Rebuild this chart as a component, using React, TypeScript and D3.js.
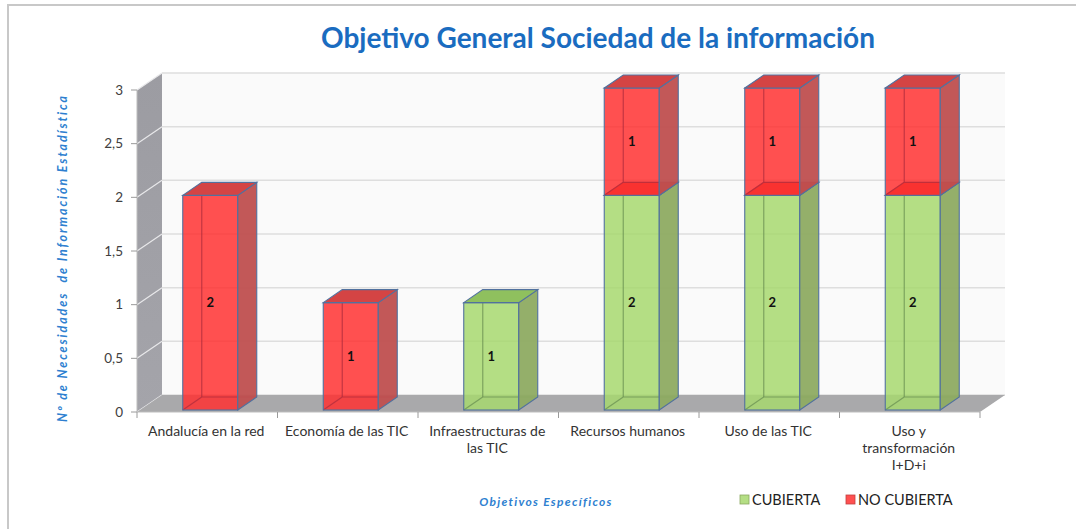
import React from "react";
import * as d3 from "d3";

const categories = [
  "Andalucía en la red",
  "Economía de las TIC",
  "Infraestructuras de las TIC",
  "Recursos humanos",
  "Uso de las TIC",
  "Uso y transformación I+D+i",
];
const categoryLines = [
  ["Andalucía en la red"],
  ["Economía de las TIC"],
  ["Infraestructuras de", "las TIC"],
  ["Recursos humanos"],
  ["Uso de las TIC"],
  ["Uso y", "transformación", "I+D+i"],
];
const cubierta = [0, 0, 1, 2, 2, 2];
const noCubierta = [2, 1, 0, 1, 1, 1];
const yTicks = [0, 0.5, 1, 1.5, 2, 2.5, 3];
const title = "Objetivo General Sociedad de la información";
const yTitle = "Nº de Necesidades  de Información Estadística";
const xTitle = "Objetivos Específicos";
const legendLabels = ["CUBIERTA", "NO CUBIERTA"];

const W = 1076;
const H = 529;
const left = 137;
const right = 980;
const bottom = 412;
const top = 90;
const DX = 25;
const DY = -17;
const BOFF = [3, -2];
const BDX = 19;
const BDY = -13;
const BW = 55;

const colors = {
  green: { front: "#a7d86e", side: "#8eab62", top: "#8fc05e", bottom: "#8fc05e", edge: "#6a9052", legend: "#b4de84" },
  red: { front: "#ff3131", side: "#bf4f4f", top: "#d44444", bottom: "#d83a2a", edge: "#b02c3c", legend: "#ff5050" },
};
const stroke = "#51719e";

const fontF = "Lato, 'Open Sans', sans-serif";

function Box({ x0, x1, yb, yt, c, fillBottom }: any) {
  const dx = BDX, dy = BDY;
  const p = (pts: number[][]) => pts.map((q) => q.join(",")).join(" ");
  return (
    <g>
      {fillBottom && (
        <polygon points={p([[x0, yb], [x1, yb], [x1 + dx, yb + dy], [x0 + dx, yb + dy]])} fill={c.bottom} />
      )}
      <rect x={x0} y={yt} width={x1 - x0} height={yb - yt} fill={c.front} fillOpacity={0.85} />
      <g stroke={c.edge} strokeOpacity={0.75} strokeWidth={1.2} fill="none">
        <line x1={x0 + dx} y1={yb + dy} x2={x0 + dx} y2={yt + dy} />
        <line x1={x0 + dx} y1={yb + dy} x2={x1 + dx} y2={yb + dy} />
        <line x1={x0} y1={yb} x2={x0 + dx} y2={yb + dy} />
      </g>
      <rect x={x0} y={yt} width={x1 - x0} height={yb - yt} fill="none" stroke={stroke} strokeWidth={1.1} />
      <polygon points={p([[x1, yb], [x1 + dx, yb + dy], [x1 + dx, yt + dy], [x1, yt]])} fill={c.side} fillOpacity={0.95} stroke={stroke} strokeWidth={1.1} />
      <polygon points={p([[x0, yt], [x1, yt], [x1 + dx, yt + dy], [x0 + dx, yt + dy]])} fill={c.top} stroke={stroke} strokeWidth={1.1} />
    </g>
  );
}

export default function App() {
  const x = d3.scaleBand<string>().domain(categories).range([left, right]).padding(0);
  const y = d3.scaleLinear().domain([0, 3]).range([bottom, top]);
  const fmt = (v: number) => String(v).replace(".", ",");
  const stack = d3.stack<any>().keys(["cubierta", "noCubierta"])(
    categories.map((c, i) => ({ cat: c, cubierta: cubierta[i], noCubierta: noCubierta[i] }))
  );

  return (
    <div style={{ position: "absolute", left: 0, top: 0 }}>
      <svg width={W} height={H} style={{ display: "block", background: "#fff" }}>
        <defs>
          <linearGradient id="wallG" x1="0" y1="0" x2="0" y2="1">
            <stop offset="0" stopColor="#9c9ca2" />
            <stop offset="1" stopColor="#a4a4aa" />
          </linearGradient>
        </defs>
        <rect x={8} y={5} width={W + 10} height={H + 10} fill="none" stroke="#c8c8c8" strokeWidth={2} />
        <text x={598} y={48} textAnchor="middle" fontFamily={fontF} fontWeight="bold" fontSize={28} fill="#1a6cc0">
          {title}
        </text>
        <rect x={left + DX} y={top + DY} width={right - left} height={bottom - top} fill="#fafafa" />
        {yTicks.map((t) => (
          <line key={"g" + t} x1={left + DX} x2={right + DX} y1={y(t) + DY} y2={y(t) + DY} stroke="#dedede" strokeWidth={1.5} />
        ))}
        <polygon
          points={[[left, bottom], [left, top], [left + DX, top + DY], [left + DX, bottom + DY]].map((q) => q.join(",")).join(" ")}
          fill="url(#wallG)"
        />
        {yTicks.map((t) => (
          <line key={"w" + t} x1={left} x2={left + DX} y1={y(t)} y2={y(t) + DY} stroke="#e8e8ea" strokeWidth={1.2} />
        ))}
        <polygon
          points={[[left, bottom], [right, bottom], [right + DX, bottom + DY], [left + DX, bottom + DY]].map((q) => q.join(",")).join(" ")}
          fill="#a9a9ab"
        />
        <line x1={left} x2={right} y1={bottom} y2={bottom} stroke="#bdbdbd" strokeWidth={1} />
        <line x1={left} x2={left} y1={top} y2={bottom} stroke="#bdbdbd" strokeWidth={1} />
        {yTicks.map((t) => (
          <g key={"t" + t}>
            <line x1={left - 6} x2={left} y1={y(t)} y2={y(t)} stroke="#9a9a9a" />
            <text x={left - 14} y={y(t) + 4.5} textAnchor="end" fontFamily={fontF} fontSize={13.5} fill="#404040">
              {fmt(t)}
            </text>
          </g>
        ))}
        {d3.range(categories.length + 1).map((i) => {
          const xx = i < categories.length ? (x(categories[i]) as number) : right;
          return <line key={"xt" + i} x1={xx} x2={xx} y1={bottom} y2={bottom + 6} stroke="#9a9a9a" />;
        })}
        {categories.map((c, i) => {
          const cx = (x(c) as number) + x.bandwidth() / 2;
          const x0 = cx - BW / 2 + BOFF[0];
          const x1 = x0 + BW;
          return (
            <g key={c}>
              {stack.map((s, si) => {
                const d = s[i];
                if (d[1] - d[0] <= 0) return null;
                const yb = y(d[0]) + BOFF[1];
                const yt = y(d[1]) + BOFF[1];
                return (
                  <g key={si}>
                    <Box x0={x0} x1={x1} yb={yb} yt={yt} c={si === 0 ? colors.green : colors.red} fillBottom={d[0] > 0} />
                  </g>
                );
              })}
              {stack.map((s, si) => {
                const d = s[i];
                const v = d[1] - d[0];
                if (v <= 0) return null;
                const ym = (y(d[0]) + y(d[1])) / 2 + BOFF[1];
                return (
                  <text key={"l" + si} x={(x0 + x1) / 2} y={ym + 4.5} textAnchor="middle" fontFamily={fontF} fontWeight="bold" fontSize={13} fill="#111">
                    {v}
                  </text>
                );
              })}
            </g>
          );
        })}
        {categories.map((c, i) => {
          const cx = (x(c) as number) + x.bandwidth() / 2;
          return (
            <text key={"cl" + c} textAnchor="middle" fontFamily={fontF} fontSize={14} fill="#333" style={{ whiteSpace: "pre" }}>
              {categoryLines[i].map((ln, k) => (
                <tspan key={k} x={cx - 1} y={436 + k * 17}>
                  {ln}
                </tspan>
              ))}
            </text>
          );
        })}
        <text
          transform="translate(67,258) rotate(-90)"
          textAnchor="middle"
          fontFamily={fontF}
          fontWeight="bold"
          fontStyle="italic"
          fontSize={12.5}
          letterSpacing={1.9}
          fill="#2e7fd0"
          style={{ whiteSpace: "pre" }}
        >
          {yTitle}
        </text>
        <text x={546} y={506} textAnchor="middle" fontFamily={fontF} fontWeight="bold" fontStyle="italic" fontSize={12} letterSpacing={1.3} fill="#2e7fd0">
          {xTitle}
        </text>
        {legendLabels.map((l, i) => {
          const lx = [740, 846][i];
          const c = i === 0 ? colors.green : colors.red;
          return (
            <g key={l}>
              <rect x={lx} y={495} width={9} height={9} fill={c.legend} stroke={i === 0 ? "#8aa860" : "#c04040"} strokeWidth={0.8} />
              <text x={lx + 12} y={505} fontFamily={fontF} fontSize={14.5} fill="#222">
                {l}
              </text>
            </g>
          );
        })}
      </svg>
    </div>
  );
}
